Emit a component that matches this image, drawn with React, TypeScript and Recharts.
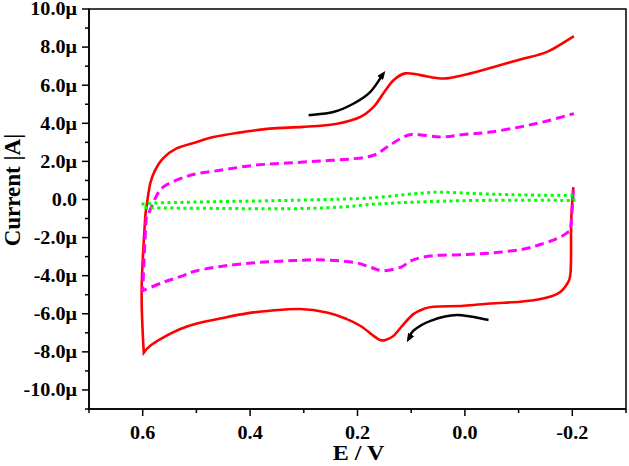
import { LineChart, Line, XAxis, YAxis, ReferenceArea } from 'recharts';

// potential (V) and current (µA), in scan order
const redE = [-0.202, -0.198, -0.197, -0.19, -0.172, -0.141, -0.103, -0.047, 0.002, 0.058, 0.077, 0.096, 0.114, 0.133, 0.148, 0.158, 0.17, 0.195, 0.22, 0.257, 0.307, 0.363, 0.406, 0.456, 0.499, 0.53, 0.562, 0.586, 0.598, 0.602, 0.596, 0.593, 0.586, 0.577, 0.562, 0.537, 0.499, 0.468, 0.425, 0.363, 0.301, 0.238, 0.195, 0.17, 0.152, 0.133, 0.111, 0.083, 0.04, -0.004, -0.054, -0.103, -0.153, -0.203];
const redI = [0.65, -1.1, -3.74, -4.44, -4.96, -5.23, -5.37, -5.46, -5.58, -5.63, -5.75, -6.02, -6.54, -7.16, -7.38, -7.38, -7.16, -6.63, -6.28, -5.93, -5.75, -5.84, -5.98, -6.25, -6.51, -6.8, -7.25, -7.68, -8.04, -4.79, -1.26, -0.41, 0.84, 1.53, 2.16, 2.68, 3.02, 3.28, 3.49, 3.72, 3.81, 3.98, 4.33, 4.86, 5.56, 6.26, 6.62, 6.53, 6.35, 6.58, 6.96, 7.35, 7.75, 8.58];

const magE = [-0.202, -0.197, -0.19, -0.172, -0.147, -0.11, -0.06, -0.004, 0.058, 0.096, 0.12, 0.152, 0.176, 0.207, 0.269, 0.319, 0.381, 0.443, 0.499, 0.53, 0.562, 0.6, 0.594, 0.59, 0.577, 0.562, 0.53, 0.499, 0.456, 0.394, 0.332, 0.269, 0.207, 0.17, 0.145, 0.12, 0.096, 0.046, 0.002, -0.047, -0.103, -0.153, -0.203];
const magI = [0.47, -1.46, -1.75, -2.05, -2.3, -2.6, -2.78, -2.89, -2.95, -3.17, -3.56, -3.74, -3.56, -3.3, -3.17, -3.21, -3.3, -3.47, -3.74, -4.05, -4.35, -4.79, -1.26, -0.84, 0.04, 0.65, 1.09, 1.35, 1.53, 1.79, 1.91, 2.02, 2.14, 2.32, 2.75, 3.19, 3.42, 3.28, 3.41, 3.54, 3.81, 4.12, 4.51];

const greenE = [0.602, 0.58, 0.456, 0.332, 0.207, 0.158, 0.096, 0.046, -0.029, -0.103, -0.203, -0.203, -0.029, 0.096, 0.158, 0.176, 0.238, 0.332, 0.456, 0.58, 0.602];
const greenI = [-0.26, -0.19, -0.11, -0.05, 0.04, 0.12, 0.3, 0.38, 0.3, 0.24, 0.21, -0.05, -0.05, -0.14, -0.23, -0.26, -0.41, -0.49, -0.47, -0.44, -0.41];

// scan direction arrows
const arrowUpE = [0.291, 0.245, 0.207, 0.176, 0.152];
const arrowUpI = [4.42, 4.59, 5.04, 5.65, 6.6];
const arrowDownE = [-0.044, 0.015, 0.064, 0.096, 0.105];
const arrowDownI = [-6.33, -6.07, -6.37, -6.89, -7.33];

const xMajor = [0.6, 0.4, 0.2, 0, -0.2];
const xTicks = [0.7, 0.6, 0.5, 0.4, 0.3, 0.2, 0.1, 0, -0.1, -0.2, -0.3];
const yMajor = [-10, -8, -6, -4, -2, 0, 2, 4, 6, 8, 10];
const yTicks = [-11, -10, -9, -8, -7, -6, -5, -4, -3, -2, -1, 0, 1, 2, 3, 4, 5, 6, 7, 8, 9, 10];

const zip = (e: number[], i: number[]) => e.map((v, k) => ({ e: v, i: i[k] }));

const red = zip(redE, redI);
const magenta = zip(magE, magI);
const green = zip(greenE, greenI);
const arrowUp = zip(arrowUpE, arrowUpI);
const arrowDown = zip(arrowDownE, arrowDownI);

const FONT = '"Liberation Serif", "Times New Roman", serif';

// catmull-rom through the points; the loops double back in x so monotone won't do.
// where the path turns back sharply the tangent is dropped, so the switching corners stay sharp
function smoothCurve(context: any) {
  let pts: number[][] = [];
  const tangent = (k: number) => {
    const p0 = pts[k - 1];
    const p1 = pts[k];
    const p2 = pts[k + 1];
    if (!p0 && !p2) return [0, 0];
    if (!p0) return [(p2[0] - p1[0]) / 6, (p2[1] - p1[1]) / 6];
    if (!p2) return [(p1[0] - p0[0]) / 6, (p1[1] - p0[1]) / 6];
    const ax = p1[0] - p0[0], ay = p1[1] - p0[1];
    const bx = p2[0] - p1[0], by = p2[1] - p1[1];
    const cos = (ax * bx + ay * by) / (Math.hypot(ax, ay) * Math.hypot(bx, by) || 1);
    if (cos < 0.2) return [0, 0];
    return [(p2[0] - p0[0]) / 6, (p2[1] - p0[1]) / 6];
  };
  return {
    areaStart() {},
    areaEnd() {},
    lineStart() {
      pts = [];
    },
    point(x: number, y: number) {
      pts.push([x, y]);
    },
    lineEnd() {
      if (!pts.length) return;
      context.moveTo(pts[0][0], pts[0][1]);
      for (let k = 0; k < pts.length - 1; k++) {
        const t1 = tangent(k);
        const t2 = tangent(k + 1);
        const p1 = pts[k];
        const p2 = pts[k + 1];
        context.bezierCurveTo(p1[0] + t1[0], p1[1] + t1[1], p2[0] - t2[0], p2[1] - t2[1], p2[0], p2[1]);
      }
    },
  };
}

function YTick({ x, y, payload }: any) {
  const v = payload.value;
  const major = yMajor.includes(v);
  const label = v === 0 ? '0.0' : `${v.toFixed(1)}μ`;
  return (
    <g>
      <line x1={x} x2={x - (major ? 7 : 4)} y1={y} y2={y} stroke="#000" strokeWidth={1.5} />
      {major && (
        <text
          transform={`translate(${x - 12},${y}) scale(1.12,1)`}
          textAnchor="end"
          dy="0.35em"
          fontFamily={FONT}
          fontWeight="bold"
          fontSize={18}
          fill="#000"
        >
          {label}
        </text>
      )}
    </g>
  );
}

function XTick({ x, y, payload }: any) {
  const v = payload.value;
  const major = xMajor.includes(v);
  return (
    <g>
      <line x1={x} x2={x} y1={y} y2={y + (major ? 7 : 4)} stroke="#000" strokeWidth={1.5} />
      {major && (
        <text
          transform={`translate(${x},${y + 30}) scale(1.12,1)`}
          textAnchor="middle"
          fontFamily={FONT}
          fontWeight="bold"
          fontSize={18}
          fill="#000"
        >
          {v.toFixed(1)}
        </text>
      )}
    </g>
  );
}

export default function App() {
  return (
    <div style={{ position: 'absolute', left: 0, top: 0, background: '#fff' }}>
      <svg width={0} height={0} style={{ position: 'absolute' }}>
        <defs>
          <marker id="arrowHead" viewBox="0 0 10 8" refX={6} refY={4} markerWidth={3.5} markerHeight={2.8} orient="auto">
            <path d="M0,0 L10,4 L0,8 z" fill="#000" />
          </marker>
        </defs>
      </svg>
      <LineChart width={629} height={466} margin={{ top: 9, right: 3, bottom: 17, left: 9 }}>
        <XAxis
          dataKey="e"
          type="number"
          domain={[-0.3, 0.7]}
          reversed
          allowDataOverflow
          ticks={xTicks}
          interval={0}
          tickSize={0}
          tickMargin={0}
          tick={<XTick />}
          height={40}
          axisLine={{ stroke: '#000', strokeWidth: 1.5 }}
          label={{
            content: ({ viewBox }: any) => (
              <text
                transform={`translate(${viewBox.x + viewBox.width / 2 + 1},${viewBox.y + 51}) scale(1.2,1)`}
                textAnchor="middle"
                fontFamily={FONT}
                fontWeight="bold"
                fontSize={20}
                fill="#000"
              >
                E / V
              </text>
            ),
          }}
        />
        <YAxis
          dataKey="i"
          type="number"
          domain={[-11, 10]}
          allowDataOverflow
          ticks={yTicks}
          interval={0}
          tickSize={0}
          tickMargin={0}
          tick={<YTick />}
          width={80}
          axisLine={{ stroke: '#000', strokeWidth: 1.5 }}
          label={{
            content: ({ viewBox }: any) => (
              <text
                transform={`translate(${viewBox.x + 3},${viewBox.y + viewBox.height / 2 - 19}) rotate(-90)`}
                textAnchor="middle"
                dy="0.35em"
                fontFamily={FONT}
                fontWeight="bold"
                fontSize={23}
                fill="#000"
              >
                Current |A|
              </text>
            ),
          }}
        />
        <ReferenceArea x1={-0.3} x2={0.7} y1={-11} y2={10} stroke="#000" strokeWidth={1.5} fill="none" fillOpacity={0} />
        <Line data={red} dataKey="i" type={smoothCurve as any} stroke="#ff0000" strokeWidth={2.6} dot={false} activeDot={false} isAnimationActive={false} />
        <Line data={magenta} dataKey="i" type={smoothCurve as any} stroke="#ff00ff" strokeWidth={3} strokeDasharray="9 5" dot={false} activeDot={false} isAnimationActive={false} />
        <Line data={green} dataKey="i" type={smoothCurve as any} stroke="#00ff00" strokeWidth={3} strokeDasharray="3 3.5" dot={false} activeDot={false} isAnimationActive={false} />
        <Line data={arrowUp} dataKey="i" type={smoothCurve as any} stroke="#000" strokeWidth={2.5} markerEnd="url(#arrowHead)" dot={false} activeDot={false} isAnimationActive={false} />
        <Line data={arrowDown} dataKey="i" type={smoothCurve as any} stroke="#000" strokeWidth={2.5} markerEnd="url(#arrowHead)" dot={false} activeDot={false} isAnimationActive={false} />
      </LineChart>
    </div>
  );
}
